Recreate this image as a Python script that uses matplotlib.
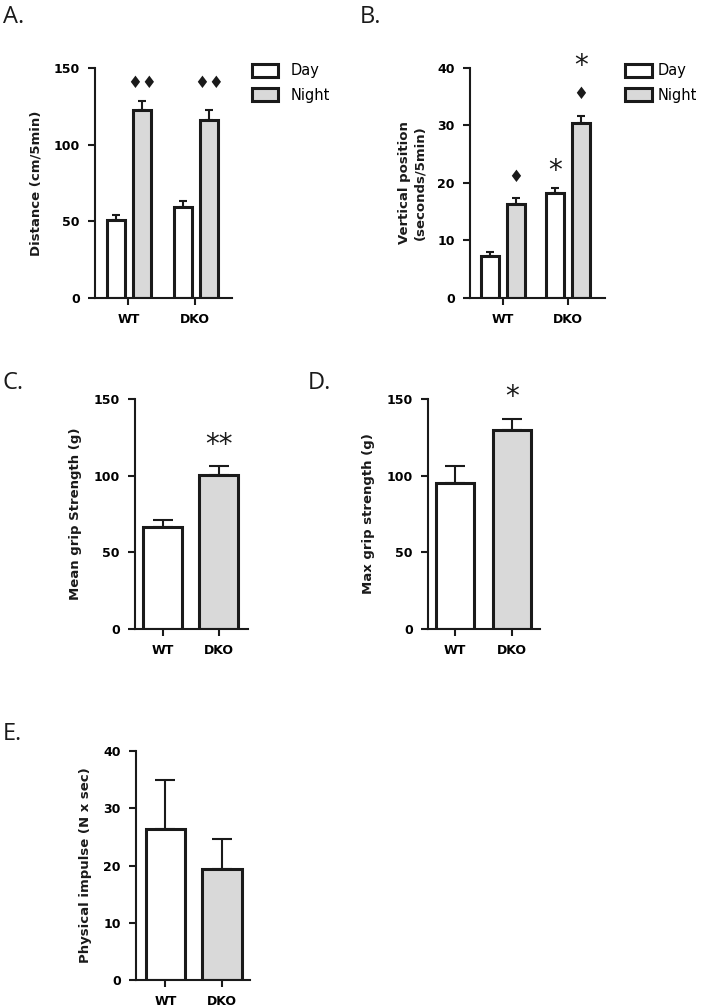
import matplotlib
matplotlib.use('Agg')
import matplotlib.pyplot as plt
from matplotlib.patches import Patch

plt.rcParams['font.family'] = ['DejaVu Sans']

# ==================== data ====================
groups = ['WT', 'DKO']

dist_day = [50.8, 59.1]
dist_day_err = [3.0, 4.1]
dist_night = [122.7, 115.8]
dist_night_err = [5.5, 6.5]

vert_day = [7.3, 18.2]
vert_day_err = [0.7, 0.9]
vert_night = [16.3, 30.5]
vert_night_err = [1.1, 1.2]

mean_grip = [66.7, 100.5]
mean_grip_err = [4.4, 5.5]

max_grip = [95.5, 129.5]
max_grip_err = [11.1, 7.6]

impulse = [26.3, 19.4]
impulse_err = [8.7, 5.3]

GRAY = '#d9d9d9'
EDGE = '#1a1a1a'
TICKFONT = dict(fontsize=9, fontweight='bold')


def style_axis(ax, ylim, yticks, ylabel, xlim):
    for s in ['top', 'right']:
        ax.spines[s].set_visible(False)
    for s in ['left', 'bottom']:
        ax.spines[s].set_linewidth(1.5)
        ax.spines[s].set_color(EDGE)
    ax.set_ylim(*ylim)
    ax.set_xlim(*xlim)
    ax.set_yticks(yticks)
    ax.set_xticks([0, 1])
    ax.set_xticklabels(groups, **TICKFONT)
    ax.set_yticklabels([str(t) for t in yticks], **TICKFONT)
    ax.tick_params(axis='both', direction='out', length=5, width=1.5, color=EDGE, pad=6)
    ax.set_ylabel(ylabel, fontsize=9.5, fontweight='bold', labelpad=8, color=EDGE)


def bars(ax, x, vals, errs, color, width, cap):
    ax.errorbar(x, vals, yerr=[[0] * len(errs), errs], fmt='none', ecolor=EDGE,
                elinewidth=1.5, capsize=cap, capthick=1.5, zorder=1)
    ax.bar(x, vals, width=width, color=color, edgecolor=EDGE, linewidth=2.2, zorder=2)


def day_night_legend(ax, x, y, pad):
    handles = [Patch(facecolor='white', edgecolor=EDGE, linewidth=2.2, label='Day'),
               Patch(facecolor=GRAY, edgecolor=EDGE, linewidth=2.2, label='Night')]
    ax.legend(handles=handles, loc='upper left', bbox_to_anchor=(x, y), bbox_transform=ax.figure.transFigure,
              frameon=False, handlelength=1.8, handleheight=1.0, handletextpad=pad, labelspacing=0.65,
              prop=dict(size=10.5), borderaxespad=0, borderpad=0)


def mark(ax, x, y, s, size, **kw):
    ax.text(x, y, s, ha='center', va='center', fontsize=size, color=EDGE, **kw)


fig = plt.figure(figsize=(7.09, 10.07), dpi=100)

# ==================== A ====================
axA = fig.add_axes([0.134, 0.7041, 0.193, 0.2284])
xd = [g - 0.18 for g in range(2)]
xn = [g + 0.21 for g in range(2)]
bars(axA, xd, dist_day, dist_day_err, 'white', 0.27, 3)
bars(axA, xn, dist_night, dist_night_err, GRAY, 0.27, 3)
style_axis(axA, (0, 150), [0, 50, 100, 150], 'Distance (cm/5min)', (-0.5, 1.55))
for x in xn:
    mark(axA, x, 140, '\u2666\u2666', 12)
day_night_legend(axA, 0.355, 0.937, 0.9)

# ==================== B ====================
axB = fig.add_axes([0.663, 0.7041, 0.190, 0.2284])
xd = [g - 0.2 for g in range(2)]
xn = [g + 0.2 for g in range(2)]
bars(axB, xd, vert_day, vert_day_err, 'white', 0.28, 3)
bars(axB, xn, vert_night, vert_night_err, GRAY, 0.28, 3)
style_axis(axB, (0, 40), [0, 10, 20, 30, 40], 'Vertical position\n(seconds/5min)', (-0.51, 1.57))
mark(axB, xn[0], 21.1, '\u2666', 12)
mark(axB, xd[1], 22.0, '*', 20)
mark(axB, xn[1], 35.5, '\u2666', 12)
mark(axB, xn[1], 40.4, '*', 20, clip_on=False)
day_night_legend(axB, 0.882, 0.937, 0.4)

# ==================== C ====================
axC = fig.add_axes([0.1904, 0.3754, 0.159, 0.2284])
bars(axC, [0, 1], mean_grip, mean_grip_err, ['white', GRAY], 0.7, 7)
style_axis(axC, (0, 150), [0, 50, 100, 150], 'Mean grip Strength (g)', (-0.5, 1.52))
mark(axC, 1, 120, '**', 20)

# ==================== D ====================
axD = fig.add_axes([0.6037, 0.3754, 0.158, 0.2284])
bars(axD, [0, 1], max_grip, max_grip_err, ['white', GRAY], 0.67, 7)
style_axis(axD, (0, 150), [0, 50, 100, 150], 'Max grip strength (g)', (-0.47, 1.49))
mark(axD, 1, 151, '*', 20, clip_on=False)

# ==================== E ====================
axE = fig.add_axes([0.1918, 0.0268, 0.161, 0.2274])
bars(axE, [0, 1], impulse, impulse_err, ['white', GRAY], 0.7, 7)
style_axis(axE, (0, 40), [0, 10, 20, 30, 40], 'Physical impulse (N x sec)', (-0.52, 1.5))

# ==================== panel letters ====================
for lbl, x, y in [('A.', 3, 17), ('B.', 360, 17), ('C.', 3, 383), ('D.', 308, 383), ('E.', 3, 734)]:
    fig.text(x / 709, 1 - y / 1007, lbl, fontsize=17, family=['Open Sans', 'DejaVu Sans'],
             ha='left', va='center', color=EDGE)

fig.savefig('out.png', dpi=100)
